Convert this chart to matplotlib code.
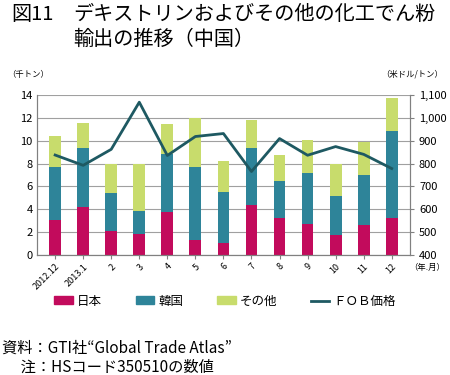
import numpy as np
import matplotlib.pyplot as plt
from matplotlib.patches import Patch
from matplotlib.lines import Line2D

plt.rcParams['font.family'] = ['Noto Sans CJK JP', 'DejaVu Sans']

# 年.月
月 = ["2012.12", "2013.1", "2", "3", "4", "5", "6", "7", "8", "9", "10", "11", "12"]
# 千トン（積み上げ前の値）
日本 = [3.06, 4.17, 2.10, 1.87, 3.73, 1.31, 1.02, 4.37, 3.24, 2.74, 1.75, 2.65, 3.27]
韓国 = [4.67, 5.16, 3.30, 1.98, 5.11, 6.42, 4.49, 4.99, 3.23, 4.40, 3.41, 4.35, 7.61]
その他 = [2.68, 2.19, 2.59, 4.15, 2.62, 4.26, 2.71, 2.48, 2.31, 2.89, 2.77, 2.89, 2.89]
# 米ドル/トン
FOB価格 = [837, 792, 862, 1068, 835, 918, 931, 765, 909, 836, 874, 840, 778]

c_jp = '#C20B5C'
c_kr = '#2E8499'
c_ot = '#C8DC6C'
c_line = '#1E5962'

fig = plt.figure(figsize=(4.5, 3.75), dpi=100)
ax1 = fig.add_axes([0.082, 0.32, 0.829, 0.427])

x = np.arange(len(月))
w = 0.42
jp = np.array(日本)
kr = np.array(韓国)
ot = np.array(その他)
ax1.bar(x, jp, w, color=c_jp, zorder=2)
ax1.bar(x, kr, w, bottom=jp, color=c_kr, zorder=2)
ax1.bar(x, ot, w, bottom=jp + kr, color=c_ot, zorder=2)

ax1.set_ylim(0, 14)
ax1.set_yticks(np.arange(0, 15, 2))
ax1.set_xlim(-0.65, len(月) - 0.35)
ax1.grid(axis='y', color='#A0A0A0', linewidth=0.8, zorder=0)
ax1.set_axisbelow(True)
ax1.set_xticks(x)
ax1.set_xticklabels(月, rotation=45, ha='right', fontsize=6.5, rotation_mode='anchor')
ax1.tick_params(axis='y', labelsize=8, length=0, pad=3)
ax1.tick_params(axis='x', length=3, color='#808080', pad=2)
ax1.spines['top'].set_visible(False)
for s in ['left', 'right', 'bottom']:
    ax1.spines[s].set_color('#808080')

ax2 = ax1.twinx()
ax2.plot(x, FOB価格, color=c_line, linewidth=2, zorder=3)
ax2.set_ylim(400, 1100)
ax2.set_yticks(np.arange(400, 1101, 100))
ax2.set_yticklabels([f"{v:,}" for v in range(400, 1101, 100)])
ax2.tick_params(axis='y', labelsize=8, length=3, color='#808080')
ax2.spines['top'].set_visible(False)
for s in ['left', 'right', 'bottom']:
    ax2.spines[s].set_color('#808080')

fig.text(0.015, 0.795, "（千トン）", fontsize=6)
fig.text(0.985, 0.795, "（米ドル/トン）", fontsize=6, ha='right')
fig.text(0.99, 0.287, "（年.月）", fontsize=6, ha='right', va='center')

fig.text(0.025, 0.962, "図11", fontsize=14.5, va='center')
fig.text(0.163, 0.962, "デキストリンおよびその他の化工でん粉", fontsize=14.5, va='center')
fig.text(0.163, 0.895, "輸出の推移（中国）", fontsize=14.5, va='center')

handles = [Patch(color=c_jp), Patch(color=c_kr), Patch(color=c_ot),
           Line2D([0], [0], color=c_line, linewidth=2)]
fig.legend(handles, ["日本", "韓国", "その他", "ＦＯＢ価格"], loc='center',
           bbox_to_anchor=(0.5, 0.197), ncol=4, frameon=False, fontsize=9,
           handlelength=1.5, handleheight=0.55, columnspacing=2.7, handletextpad=0.3)

fig.text(0.005, 0.072, "資料：GTI社“Global Trade Atlas”", fontsize=11, va='center')
fig.text(0.005, 0.021, "　 注：HSコード350510の数値", fontsize=11, va='center')

fig.savefig("out.png", dpi=100)
